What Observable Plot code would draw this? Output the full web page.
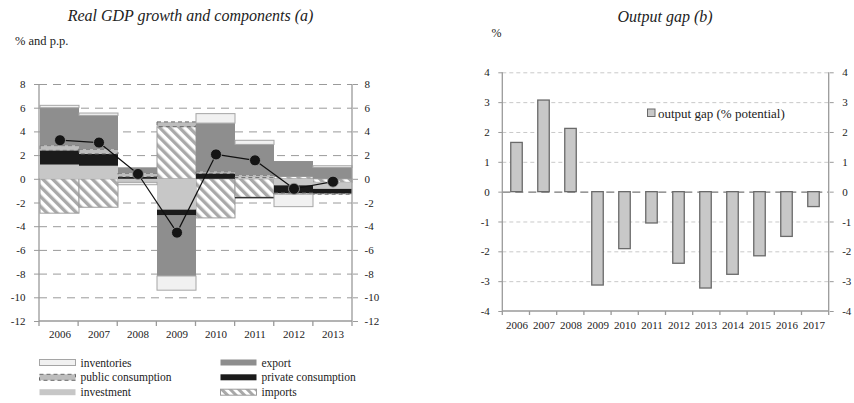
<!DOCTYPE html>
<html><head><meta charset="utf-8">
<script src="https://cdn.jsdelivr.net/npm/d3@7"></script>
<script src="https://cdn.jsdelivr.net/npm/@observablehq/plot@0.6"></script>
<style>
body{margin:0;background:#fff;}
#root{position:relative;width:854px;height:403px;font-family:"Liberation Serif",serif;color:#222;overflow:hidden;background:#fff}
#root > svg{position:absolute;top:0}
#root svg text{font-family:"Liberation Serif",serif !important;}
</style></head><body><div id="root"></div>
<script>
// ---- Panel (a): Real GDP growth and components ----
const years = ["2006","2007","2008","2009","2010","2011","2012","2013"];
const imports     = [-2.9, -2.4,  0.0,  4.4, -3.3, -1.55,  0.2, -0.3];
const investment  = [ 1.2,  1.1, -0.3, -2.6,  0.0,  0.1, -0.55, -0.55];
const privateCons = [ 1.2,  1.0, 0.17, -0.5, 0.45, -0.1, -0.65, -0.4];
const publicCons  = [ 0.4,  0.4,  0.3,  0.4, 0.15,  0.2, -0.1, -0.05];
const exportC     = [ 3.2, 2.85,  0.5, -5.1,  4.1,  2.6,  1.3, 0.95];
const inventories = [ 0.2,  0.2, -0.2, -1.2,  0.8, 0.35, -1.05, 0.15];
const gdp         = [ 3.3,  3.1, 0.45, -4.5,  2.1,  1.6, -0.8, -0.2];
const yTicksA = [-12,-10,-8,-6,-4,-2,0,2,4,6,8];

// ---- Panel (b): Output gap ----
const gapYears = ["2006","2007","2008","2009","2010","2011","2012","2013","2014","2015","2016","2017"];
const gap      = [1.65, 3.07, 2.12, -3.13, -1.91, -1.05, -2.40, -3.23, -2.77, -2.15, -1.50, -0.50];
const yTicksB = [-4,-3,-2,-1,0,1,2,3,4];

const rowsA = years.map((y,i)=>({year:y, imports:imports[i], investment:investment[i], private:privateCons[i],
  public:publicCons[i], export:exportC[i], inventories:inventories[i], gdp:gdp[i]}));
const keys = ["imports","investment","private","public","export","inventories"];
const stacked = d3.stack().keys(keys).offset(d3.stackOffsetDiverging)(rowsA);
const layer = k => stacked.find(s=>s.key===k).map(d=>({year:d.data.year, y1:d[0], y2:d[1]}));

const styles = {
  imports:     {fill:"url(#hatchImp)", stroke:"#9c9c9c", strokeWidth:1},
  investment:  {fill:"#c7c7c7"},
  private:     {fill:"#1b1b1b"},
  public:      {fill:"#bdbdbd", stroke:"#6a6a6a", strokeWidth:1, strokeDasharray:"4,3"},
  export:      {fill:"#8e8e8e"},
  inventories: {fill:"#f1f1f1", stroke:"#a5a5a5", strokeWidth:1}
};

const FONT = "Liberation Serif";

// decoration: axis lines + boundary ticks + hatch pattern
function frameDeco(n, opts) {
  return (index, scales, values, dim) => {
    const {width, height, marginLeft:l, marginRight:r, marginTop:t, marginBottom:b} = dim;
    const g = d3.create("svg:g");
    if (opts.pattern) {
      const p = g.append("defs").append("pattern").attr("id","hatchImp")
        .attr("patternUnits","userSpaceOnUse").attr("width",7).attr("height",7)
        .attr("patternTransform","rotate(-45)");
      p.append("rect").attr("width",7).attr("height",7).attr("fill","#fff");
      p.append("rect").attr("width",3.4).attr("height",7).attr("fill","#a9a9a9");
    }
    const x0 = l, x1 = width - r, y0 = t, y1 = height - b;
    const s = g.append("g").attr("stroke", opts.color).attr("stroke-width", opts.w).attr("fill","none");
    s.append("line").attr("x1",x0).attr("x2",x0).attr("y1",y0).attr("y2",y1);
    s.append("line").attr("x1",x1).attr("x2",x1).attr("y1",y0).attr("y2",y1);
    s.append("line").attr("x1",x0).attr("x2",x1).attr("y1",y1).attr("y2",y1);
    for (let i = 0; i <= n; i++) {
      const xx = x0 + i*(x1-x0)/n;
      s.append("line").attr("x1",xx).attr("x2",xx).attr("y1",y1).attr("y2",y1+opts.tick);
    }
    return g.node();
  };
}

const fontStyle = {fontFamily:FONT + ", serif", fontSize:"11px", color:"#222", background:"transparent", overflow:"visible"};
const ax = {fontSize:11, fontFamily:FONT, stroke:"#9a9a9a", fill:"#222", tickFormat:d=>String(d), label:null};

const plotA = Plot.plot({
  width: 400, height: 345,
  marginLeft: 39, marginRight: 48, marginTop: 84, marginBottom: 24,
  style: fontStyle,
  x: {type:"band", domain: years, padding: 0},
  y: {domain: [-12, 8]},
  marks: [
    Plot.ruleY(yTicksA.filter(d=>d>-12), {stroke:"#9a9a9a", strokeWidth:1, strokeDasharray:"8,6"}),
    ...keys.map(k => Plot.barY(layer(k), {x:"year", y1:"y1", y2:"y2", ...styles[k]})),
    Plot.line(rowsA, {x:"year", y:"gdp", stroke:"#111", strokeWidth:1.2}),
    Plot.dot(rowsA, {x:"year", y:"gdp", r:5.5, fill:"#151515", stroke:"#9a9a9a", strokeWidth:0.8}),
    frameDeco(years.length, {color:"#9a9a9a", w:1.3, tick:5, pattern:true}),
    Plot.axisY(yTicksA, {anchor:"left", tickSize:5, tickPadding:9, ...ax}),
    Plot.axisY(yTicksA, {anchor:"right", tickSize:5, tickPadding:7, ...ax}),
    Plot.axisX({tickSize:0, tickPadding:9, fontSize:11, fontFamily:FONT, fill:"#222", label:null})
  ]
});

const plotB = Plot.plot({
  width: 414, height: 340,
  marginLeft: 62.3, marginRight: 25.3, marginTop: 72.3, marginBottom: 29,
  style: fontStyle,
  x: {type:"band", domain: gapYears, padding: 0},
  y: {domain: [-4, 4]},
  marks: [
    Plot.ruleY(yTicksB.filter(d=>d!==0 && d>-4), {stroke:"#c9c9c9", strokeWidth:1, strokeDasharray:"4,3"}),
    Plot.ruleY([0], {stroke:"#777", strokeWidth:1.1, strokeDasharray:"8,5"}),
    Plot.barY(gapYears.map((y,i)=>({year:y, gap:gap[i]})), {x:"year", y:"gap", insetLeft:7.75, insetRight:7.75,
      fill:"#c8c8c8", stroke:"#6a6a6a", strokeWidth:1.3}),
    frameDeco(gapYears.length, {color:"#9a9a9a", w:1.3, tick:4, pattern:false}),
    Plot.axisY(yTicksB, {anchor:"left", tickSize:4, tickPadding:9, ...ax}),
    Plot.axisY(yTicksB, {anchor:"right", tickSize:4, tickPadding:9, ...ax}),
    Plot.axisX({tickSize:0, tickPadding:10, fontSize:11, fontFamily:FONT, fill:"#222", label:null})
  ]
});

const root = document.getElementById("root");
plotA.style.left = "0px"; plotA.style.position = "absolute"; plotA.style.top = "0px";
plotB.style.left = "440px"; plotB.style.position = "absolute"; plotB.style.top = "0px";
root.appendChild(plotA);
root.appendChild(plotB);

// Titles and legends overlay
const ov = d3.select(root).append("svg").attr("width",854).attr("height",403)
  .style("position","absolute").style("left","0px").style("top","0px")
  .style("font-family","Liberation Serif, serif").attr("fill","#222");
ov.append("defs").append("pattern").attr("id","hatchLeg")
  .attr("patternUnits","userSpaceOnUse").attr("width",6).attr("height",6)
  .attr("patternTransform","rotate(-45)")
  .call(p=>{p.append("rect").attr("width",6).attr("height",6).attr("fill","#fff");
            p.append("rect").attr("width",3).attr("height",6).attr("fill","#a9a9a9");});
ov.append("text").attr("x",190.5).attr("y",20.7).attr("text-anchor","middle")
  .style("font-size","16px").style("font-style","italic").text("Real GDP growth and components (a)");
ov.append("text").attr("x",15).attr("y",45).style("font-size","12.5px").text("% and p.p.");
ov.append("text").attr("x",665).attr("y",21.7).attr("text-anchor","middle")
  .style("font-size","16px").style("font-style","italic").text("Output gap (b)");
ov.append("text").attr("x",491.5).attr("y",37.3).style("font-size","12px").text("%");

const legendItems = [
  {k:"inventories", label:"inventories", col:0, row:0},
  {k:"export", label:"export", col:1, row:0},
  {k:"public", label:"public consumption", col:0, row:1},
  {k:"private", label:"private consumption", col:1, row:1},
  {k:"investment", label:"investment", col:0, row:2},
  {k:"imports", label:"imports", col:1, row:2}
];
const colX = [39, 220], rowY = [362.5, 377.3, 392.2];
legendItems.forEach(it=>{
  const st = styles[it.k];
  const x = colX[it.col], y = rowY[it.row];
  ov.append("rect").attr("x",x+0.5).attr("y",y-3).attr("width",36).attr("height",6)
    .attr("fill", it.k==="imports" ? "url(#hatchLeg)" : st.fill)
    .attr("stroke", st.stroke || "none").attr("stroke-width", st.stroke ? 1 : 0)
    .attr("stroke-dasharray", st.strokeDasharray || null);
  ov.append("text").attr("x",x+41.5).attr("y",y+4).style("font-size","11.5px").text(it.label);
});
ov.append("rect").attr("x",647.5).attr("y",109).attr("width",7.5).attr("height",7.5)
  .attr("fill","#c8c8c8").attr("stroke","#6a6a6a").attr("stroke-width",1);
ov.append("text").attr("x",658).attr("y",117.5).style("font-size","13px").text("output gap (% potential)");
</script></body></html>
